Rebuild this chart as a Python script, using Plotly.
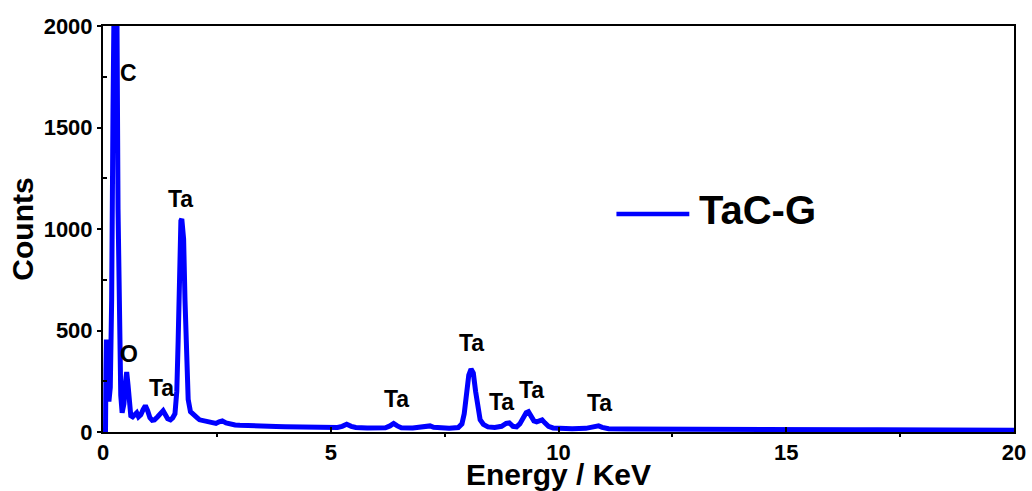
import plotly.graph_objects as go

# EDS spectrum of the TaC-G sample (energy in keV, counts)
energy_kev = [
    0.00, 0.04, 0.055, 0.065, 0.075, 0.09, 0.11, 0.13, 0.16, 0.19, 0.22, 0.25,
    0.27, 0.30, 0.33, 0.36, 0.39, 0.42, 0.46, 0.49, 0.52, 0.55, 0.58, 0.61,
    0.65, 0.70, 0.74, 0.78, 0.83, 0.88, 0.93, 0.98, 1.03, 1.08, 1.13, 1.20,
    1.27, 1.32, 1.37, 1.42, 1.48, 1.53, 1.58, 1.62, 1.65, 1.68, 1.71, 1.73,
    1.75, 1.77, 1.80, 1.83, 1.87, 1.92, 1.97, 2.02, 2.07, 2.12, 2.18, 2.25,
    2.32, 2.40, 2.48, 2.55, 2.62, 2.70, 2.80, 2.90, 3.00, 3.20, 3.40, 3.60,
    3.80, 4.00, 4.20, 4.40, 4.60, 4.80, 5.00, 5.15, 5.25, 5.35, 5.45, 5.55,
    5.80, 6.00, 6.20, 6.30, 6.38, 6.46, 6.55, 6.80, 7.00, 7.10, 7.18, 7.26,
    7.40, 7.60, 7.80, 7.88, 7.93, 7.98, 8.03, 8.08, 8.13, 8.18, 8.23, 8.28,
    8.35, 8.45, 8.60, 8.75, 8.85, 8.92, 9.00, 9.08, 9.15, 9.22, 9.29, 9.34,
    9.40, 9.46, 9.52, 9.58, 9.64, 9.70, 9.78, 9.88, 10.00, 10.30, 10.60, 10.80,
    10.88, 10.96, 11.10, 11.50, 12.00, 12.50, 13.00, 13.50, 14.00, 14.50, 15.00, 15.50,
    16.00, 16.50, 17.00, 17.50, 18.00, 18.50, 19.00, 19.50, 20.00,
]
counts = [
    0, 0, 5, 300, 455, 380, 200, 150, 220, 650, 1600, 2500,
    2700, 2300, 1100, 450, 180, 95, 140, 240, 295, 230, 120, 80,
    75, 90, 95, 75, 85, 110, 130, 105, 70, 58, 60, 75,
    95, 105, 85, 65, 60, 70, 90, 200, 450, 800, 1040, 1050,
    1020, 950, 650, 350, 160, 100, 92, 85, 70, 60, 58, 55,
    48, 45, 42, 50, 55, 45, 38, 35, 33, 30, 30, 28,
    27, 26, 25, 25, 23, 22, 22, 22, 28, 38, 28, 22,
    20, 20, 21, 30, 42, 30, 21, 20, 22, 28, 30, 23,
    19, 19, 22, 40, 90, 190, 280, 310, 290, 200, 110, 60,
    38, 25, 22, 28, 42, 45, 28, 25, 40, 70, 95, 100,
    80, 55, 50, 58, 60, 45, 28, 20, 18, 16, 18, 24,
    30, 23, 16, 15, 14, 14, 13, 13, 12, 12, 12, 11,
    11, 11, 11, 10, 10, 10, 10, 9, 9,
]

# Peak labels: element symbol and where it is written (keV, counts)
peak_labels = ["C", "O", "Ta", "Ta", "Ta", "Ta", "Ta", "Ta", "Ta"]
label_x = [0.56, 0.58, 1.29, 1.71, 6.45, 8.09, 8.75, 9.41, 10.89]
label_y = [1768, 384, 217, 1147, 165, 440, 148, 207, 143]

x_ticks = [0, 5, 10, 15, 20]
y_ticks = [0, 500, 1000, 1500, 2000]

FONT = "Liberation Sans, Arial, sans-serif"
BLUE = "#0000FF"

fig = go.Figure()
fig.add_trace(go.Scatter(
    x=energy_kev, y=counts, mode="lines",
    line=dict(color=BLUE, width=5),
    name="TaC-G", showlegend=False,
))

for txt, lx, ly in zip(peak_labels, label_x, label_y):
    fig.add_annotation(
        x=lx, y=ly, text=txt, showarrow=False,
        font=dict(family=FONT, size=23, color="black", weight="bold"),
        xanchor="center", yanchor="middle",
    )

# legend drawn by hand: long line sample plus big label
fig.add_shape(type="line", xref="paper", yref="paper",
              x0=0.5636, x1=0.6436, y0=0.537, y1=0.537,
              line=dict(color=BLUE, width=4.5))
fig.add_annotation(
    xref="paper", yref="paper", x=0.652, y=0.547, text="TaC-G",
    showarrow=False, xanchor="left", yanchor="middle",
    font=dict(family=FONT, size=40, color="black", weight="bold"),
)

axis_font = dict(family=FONT, size=22, color="black", weight="bold")
title_font = dict(family=FONT, size=30, color="black", weight="bold")

fig.update_xaxes(
    range=[0, 20], tickvals=x_ticks, ticktext=[str(v) for v in x_ticks],
    showgrid=False, zeroline=False, automargin=False,
    showline=True, linecolor="black", linewidth=2, mirror=True,
    ticks="inside", ticklen=5, tickwidth=1.5, tickcolor="black",
    minor=dict(tickvals=[2.5, 7.5, 12.5, 17.5], ticks="outside",
               ticklen=3, tickwidth=1.5, tickcolor="black"),
    tickfont=axis_font,
    title=dict(text="Energy / KeV", font=title_font, standoff=0),
)
fig.update_yaxes(
    range=[0, 2000], tickvals=y_ticks, ticktext=[str(v) for v in y_ticks],
    showgrid=False, zeroline=False, automargin=False,
    showline=True, linecolor="black", linewidth=2, mirror=True,
    ticks="outside", ticklen=4, tickwidth=1.5, tickcolor="black",
    minor=dict(tickvals=[250, 750, 1250, 1750], ticks="inside",
               ticklen=4, tickwidth=1.5, tickcolor="black"),
    tickfont=axis_font,
    title=dict(text="Counts", font=title_font, standoff=1),
)

fig.update_layout(
    width=1032, height=491,
    margin=dict(l=103, r=18, t=26, b=59),
    paper_bgcolor="white", plot_bgcolor="white",
    showlegend=False,
)

fig.write_html("out.html")
